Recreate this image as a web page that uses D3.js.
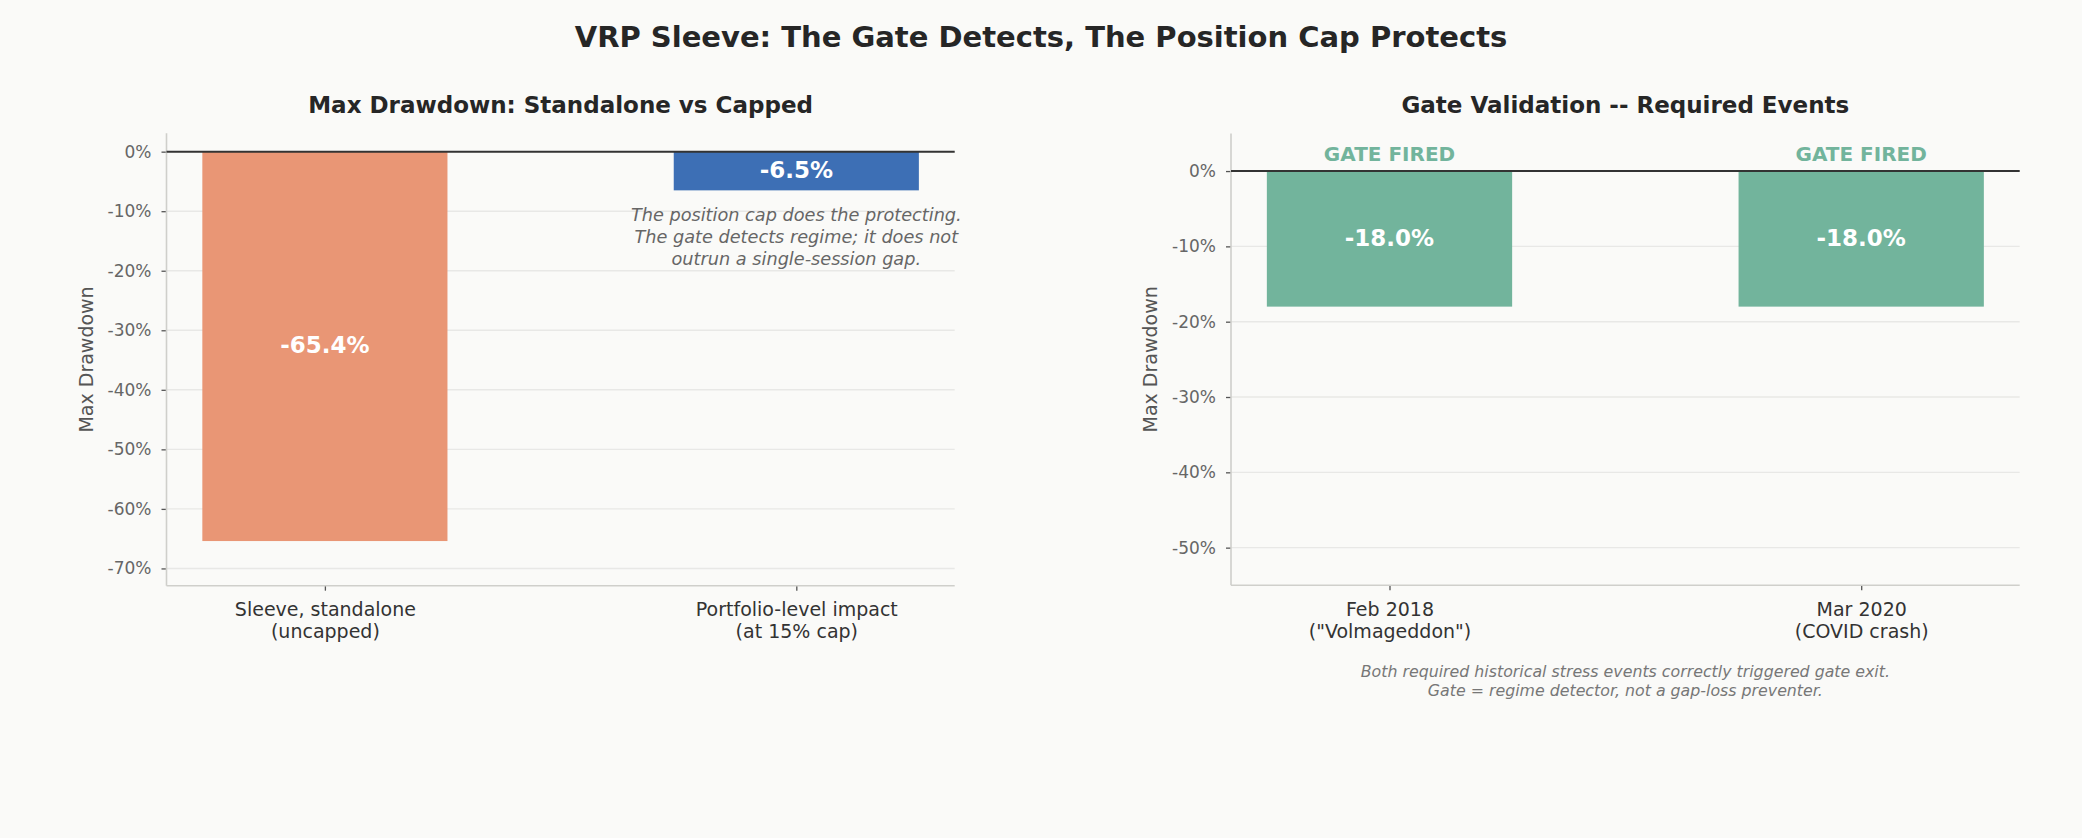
<!DOCTYPE html>
<html>
<head>
<meta charset="utf-8">
<script src="https://cdn.jsdelivr.net/npm/d3@7"></script>
<style>
  body { margin: 0; background: #fafaf8; }
  svg { display: block; font-family: "DejaVu Sans", sans-serif; }
</style>
</head>
<body>
<div class="container"></div>
<script>
// Data
const leftCategories = [["Sleeve, standalone", "(uncapped)"], ["Portfolio-level impact", "(at 15% cap)"]]
const leftValues = [-65.4, -6.5]
const leftColors = ["#e99675", "#3d6fb5"]
const leftTicks = [0, -10, -20, -30, -40, -50, -60, -70]
const leftDomain = [-72.9, 3.1]

const rightCategories = [["Feb 2018", "(\"Volmageddon\")"], ["Mar 2020", "(COVID crash)"]]
const rightValues = [-18.0, -18.0]
const rightFlags = ["GATE FIRED", "GATE FIRED"]
const rightColor = "#72b49c"
const rightTicks = [0, -10, -20, -30, -40, -50]
const rightDomain = [-55, 5]

const capNote = ["The position cap does the protecting.", "The gate detects regime; it does not", "outrun a single-session gap."]
const gateNote = ["Both required historical stress events correctly triggered gate exit.", "Gate = regime detector, not a gap-loss preventer."]

const outerWidth = 2082
const outerHeight = 838

const svg = d3.select(".container")
    .append("svg")
    .attr("width", outerWidth)
    .attr("height", outerHeight)

svg.append("rect")
    .attr("width", outerWidth)
    .attr("height", outerHeight)
    .attr("fill", "#fafaf8")

// Main title
svg.append("text")
    .text("VRP Sleeve: The Gate Detects, The Position Cap Protects")
    .attr("x", 1041)
    .attr("y", 37)
    .attr("dy", "0.36em")
    .attr("text-anchor", "middle")
    .attr("font-size", 29)
    .attr("font-weight", "bold")
    .attr("fill", "#262626")

function drawPanel(opts) {
    const {left, right, top, bottom} = opts
    const g = svg.append("g")

    const xScale = d3.scaleLinear()
        .domain([-0.336, 1.336])
        .range([left, right])

    const yScale = d3.scaleLinear()
        .domain(opts.domain)
        .range([bottom, top])

    // Grid lines
    g.append("g")
        .selectAll("line")
        .data(opts.ticks)
        .enter()
        .append("line")
        .attr("x1", left)
        .attr("x2", right)
        .attr("y1", d => yScale(d))
        .attr("y2", d => yScale(d))
        .attr("stroke", "#e8e8e6")
        .attr("stroke-width", 1.4)

    // Y axis
    const yAxis = d3.axisLeft(yScale)
        .tickValues(opts.ticks)
        .tickFormat(d => d + "%")
        .tickSize(5)
        .tickPadding(10)

    const y = g.append("g")
        .attr("transform", `translate(${left}, 0)`)
        .call(yAxis)
    y.select(".domain").remove()
    y.selectAll(".tick line").attr("stroke", "#555").attr("stroke-width", 1.3)
    y.selectAll(".tick text")
        .attr("font-size", 17)
        .attr("font-family", "DejaVu Sans")
        .attr("fill", "#666")

    // X axis
    const xAxis = d3.axisBottom(xScale)
        .tickValues([0, 1])
        .tickFormat("")
        .tickSize(5)

    const x = g.append("g")
        .attr("transform", `translate(0, ${bottom})`)
        .call(xAxis)
    x.select(".domain").remove()
    x.selectAll(".tick line").attr("stroke", "#555").attr("stroke-width", 1.3)
    x.selectAll(".tick")
        .append("text")
        .attr("fill", "#333")
        .attr("font-size", 19)
        .attr("font-family", "DejaVu Sans")
        .attr("text-anchor", "middle")
        .selectAll("tspan")
        .data((d, i) => opts.categories[i])
        .enter()
        .append("tspan")
        .attr("x", 0)
        .attr("y", (d, i) => 24 + i * 21.8)
        .attr("dy", "0.35em")
        .text(d => d)

    // Spines
    g.append("line")
        .attr("x1", left).attr("x2", left)
        .attr("y1", top).attr("y2", bottom)
        .attr("stroke", "#cfcfcb").attr("stroke-width", 1.6)
    g.append("line")
        .attr("x1", left).attr("x2", right)
        .attr("y1", bottom).attr("y2", bottom)
        .attr("stroke", "#cfcfcb").attr("stroke-width", 1.6)

    // Bars
    const barWidth = xScale(0.52) - xScale(0)
    g.selectAll(".bar")
        .data(opts.values)
        .enter()
        .append("rect")
        .attr("x", (d, i) => xScale(i) - barWidth / 2)
        .attr("y", yScale(0))
        .attr("width", barWidth)
        .attr("height", d => yScale(d) - yScale(0))
        .attr("fill", (d, i) => opts.colors[i])

    // Zero line
    g.append("line")
        .attr("x1", left).attr("x2", right)
        .attr("y1", yScale(0)).attr("y2", yScale(0))
        .attr("stroke", "#333").attr("stroke-width", 2)

    // Value labels
    g.selectAll(".value")
        .data(opts.values)
        .enter()
        .append("text")
        .text(d => d.toFixed(1) + "%")
        .attr("x", (d, i) => xScale(i))
        .attr("y", d => yScale(d / 2))
        .attr("dy", "0.3em")
        .attr("text-anchor", "middle")
        .attr("font-size", 23)
        .attr("font-weight", "bold")
        .attr("fill", "white")

    // Y label
    g.append("text")
        .text("Max Drawdown")
        .attr("transform", `translate(${left - 80.5}, ${(top + bottom) / 2}) rotate(-90)`)
        .attr("dy", "0.36em")
        .attr("text-anchor", "middle")
        .attr("font-size", 19)
        .attr("fill", "#555")

    // Subplot title
    g.append("text")
        .text(opts.title)
        .attr("x", (left + right) / 2)
        .attr("y", 105)
        .attr("dy", "0.36em")
        .attr("text-anchor", "middle")
        .attr("font-size", 23)
        .attr("font-weight", "bold")
        .attr("fill", "#262626")

    return {g, xScale, yScale}
}

// Left panel
const lp = drawPanel({
    left: 166.5, right: 954.7, top: 133.2, bottom: 585.7,
    domain: leftDomain, ticks: leftTicks,
    categories: leftCategories, values: leftValues, colors: leftColors,
    title: "Max Drawdown: Standalone vs Capped"
})

lp.g.append("text")
    .attr("text-anchor", "middle")
    .attr("font-size", 17.7)
    .attr("font-style", "italic")
    .attr("fill", "#666")
    .selectAll("tspan")
    .data(capNote)
    .enter()
    .append("tspan")
    .attr("x", lp.xScale(1))
    .attr("y", (d, i) => lp.yScale(-14.3) + (i - 1) * 21.7)
    .attr("dy", "0.36em")
    .text(d => d)

// Right panel
const rp = drawPanel({
    left: 1231, right: 2019.7, top: 133.4, bottom: 585.3,
    domain: rightDomain, ticks: rightTicks,
    categories: rightCategories, values: rightValues, colors: rightValues.map(() => rightColor),
    title: "Gate Validation -- Required Events"
})

rp.g.selectAll(".flag")
    .data(rightFlags)
    .enter()
    .append("text")
    .text(d => d)
    .attr("x", (d, i) => rp.xScale(i))
    .attr("y", rp.yScale(1) - 3)
    .attr("text-anchor", "middle")
    .attr("font-size", 20)
    .attr("font-weight", "bold")
    .attr("fill", rightColor)

rp.g.append("text")
    .attr("text-anchor", "middle")
    .attr("font-size", 15.8)
    .attr("font-style", "italic")
    .attr("fill", "#777")
    .selectAll("tspan")
    .data(gateNote)
    .enter()
    .append("tspan")
    .attr("x", (1231 + 2019.7) / 2)
    .attr("y", (d, i) => 671 + i * 19)
    .attr("dy", "0.36em")
    .text(d => d)
</script>
</body>
</html>
